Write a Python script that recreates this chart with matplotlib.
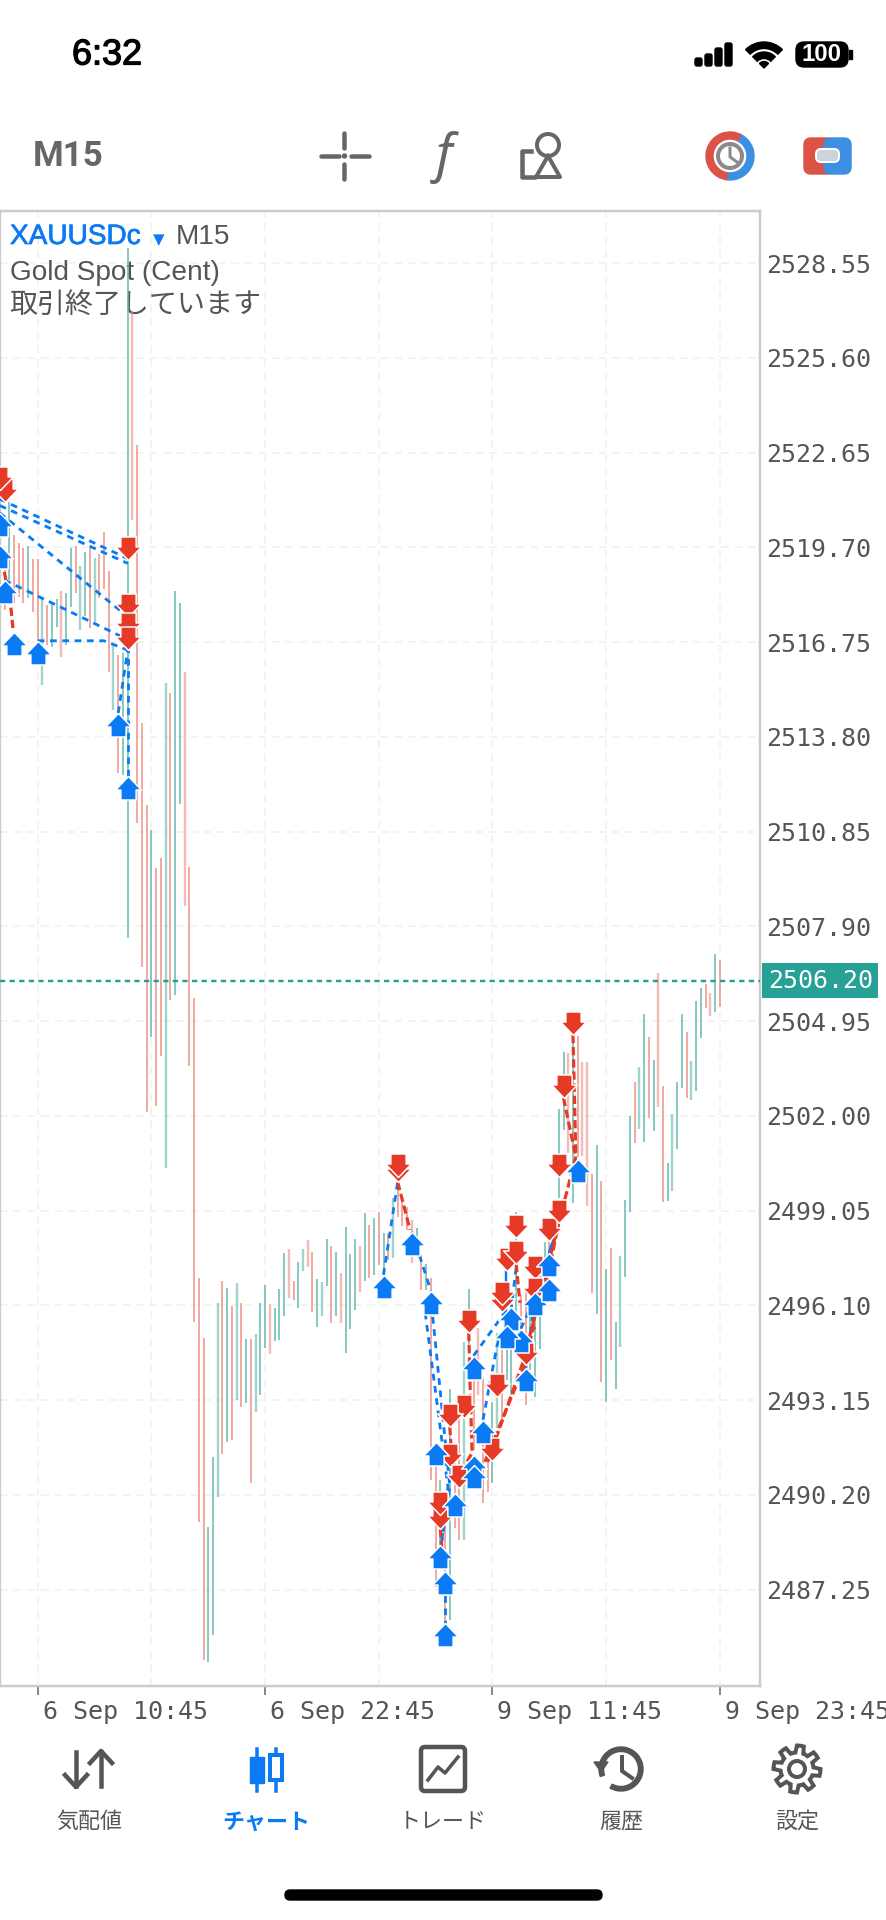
import numpy as np
import matplotlib
matplotlib.use('Agg')
import matplotlib.pyplot as plt
import matplotlib.patheffects as pe
from matplotlib.patches import Circle, FancyBboxPatch, Polygon, Rectangle, Wedge
from matplotlib.path import Path
from matplotlib.transforms import ScaledTranslation

# bars, the first one is bar number -7 (0 = 6 Sep 10:45, 48 bars = 12 hours)
first_bar = -7
highs = [2519.21, 2521.11, 2520.09, 2519.84, 2519.68, 2519.74, 2519.34, 2519.34, 2518.16, 2517.91, 2518.00, 2518.09,
         2518.34, 2518.28, 2519.68, 2519.74, 2519.12, 2519.56, 2519.68, 2519.37, 2519.49, 2520.18, 2518.96, 2516.66,
         2516.35, 2516.41, 2529.02, 2527.03, 2522.89, 2514.23, 2511.68, 2510.90, 2509.72, 2510.03, 2515.48, 2515.17,
         2518.34, 2517.97, 2515.82, 2509.75, 2505.67, 2496.96, 2495.09, 2489.20, 2491.38, 2496.18, 2496.86, 2496.64,
         2496.08, 2496.80, 2496.18, 2495.06, 2495.06, 2495.21, 2496.18, 2496.74, 2496.15, 2496.02, 2496.61, 2497.73,
         2497.86, 2496.86, 2497.45, 2497.86, 2498.14, 2497.77, 2496.92, 2496.83, 2498.17, 2497.95, 2497.77, 2497.11,
         2498.54, 2497.70, 2498.17, 2497.95, 2498.98, 2498.61, 2498.82, 2499.01, 2498.36, 2498.36, 2499.45, 2500.01,
         2499.48, 2499.17, 2498.76, 2498.51, 2497.67, 2497.39, 2496.96, 2491.17, 2490.67, 2490.04, 2493.50, 2491.29,
         2492.85, 2494.96, 2496.61, 2493.84, 2495.40, 2493.84, 2491.91, 2493.10, 2495.24, 2495.03, 2495.80, 2495.65,
         2499.01, 2496.43, 2496.58, 2496.27, 2496.58, 2495.87, 2498.08, 2498.76, 2499.38, 2502.22, 2503.99, 2503.96,
         2504.46, 2504.49, 2503.68, 2503.68, 2500.19, 2501.10, 2499.98, 2497.24, 2497.89, 2495.59, 2497.64, 2499.38,
         2502.00, 2503.06, 2503.52, 2505.17, 2504.46, 2503.74, 2506.45, 2502.93, 2500.54, 2502.06, 2503.06, 2505.17,
         2504.61, 2503.71, 2505.58, 2505.98, 2506.11, 2505.83, 2507.04, 2506.86]
lows = [2517.75, 2518.68, 2517.97, 2518.16, 2517.97, 2518.12, 2517.69, 2516.75, 2515.42, 2516.66, 2516.60, 2517.22,
        2516.29, 2516.66, 2517.84, 2518.28, 2517.13, 2517.56, 2517.19, 2517.38, 2518.12, 2518.40, 2515.82, 2514.64,
        2512.68, 2512.61, 2507.54, 2520.55, 2511.12, 2506.64, 2502.12, 2504.46, 2502.31, 2503.87, 2500.38, 2505.61,
        2505.77, 2511.71, 2508.54, 2503.56, 2495.59, 2489.36, 2485.06, 2485.00, 2485.84, 2490.14, 2491.48, 2491.85,
        2491.91, 2493.16, 2492.94, 2493.06, 2490.57, 2492.78, 2493.31, 2494.78, 2494.59, 2494.99, 2495.03, 2495.77,
        2496.33, 2496.27, 2496.02, 2497.17, 2497.30, 2495.90, 2495.43, 2495.77, 2496.71, 2495.56, 2495.77, 2495.56,
        2494.62, 2495.37, 2495.96, 2496.52, 2496.86, 2496.96, 2497.05, 2497.36, 2497.05, 2497.52, 2497.58, 2498.85,
        2498.58, 2498.45, 2497.42, 2497.67, 2496.58, 2496.58, 2490.67, 2487.33, 2488.18, 2486.22, 2486.31, 2489.17,
        2488.80, 2488.80, 2494.71, 2491.60, 2493.31, 2489.95, 2490.29, 2490.57, 2492.29, 2492.54, 2493.78, 2493.31,
        2495.65, 2494.87, 2493.00, 2494.09, 2493.25, 2494.75, 2496.27, 2496.43, 2497.83, 2499.45, 2501.56, 2500.85,
        2499.29, 2500.72, 2500.75, 2499.20, 2496.49, 2495.83, 2493.72, 2493.10, 2494.40, 2493.50, 2494.81, 2496.99,
        2499.01, 2501.16, 2501.59, 2501.19, 2501.94, 2501.53, 2502.28, 2499.32, 2499.35, 2499.66, 2500.97, 2502.87,
        2502.56, 2502.50, 2502.78, 2504.43, 2505.36, 2505.11, 2505.24, 2505.39]
# t = teal bar, s = salmon bar, ten bars per piece
bar_dir = ('stssstssts' 'ttsttsttst' 'ssststtsss' 'stsststtss' 'ssstttstst' 'ststttsttt' 'ssttssttts'
           'tstttststs' 'tstsssstst' 'sststsstts' 'sssttsttts' 'sttttsttts' 'tsssststst' 'tttsttstss'
           'ttttstttss' 'ts')

# bars that come out paler
pale_bars = [1, 5, 9, 12, 16, 20, 27, 31, 38, 42, 46, 49, 53, 56, 57, 60, 64, 68, 75, 79, 90, 93, 97,
             112, 115, 116, 123, 127, 131, 134, 138, 142]

sell_bar = [-7, -8, 19, 19, 19, 19, 76, 76, 91, 97, 90, 87, 96, 87, 89, 85, 85, 103, 98, 98, 99, 101, 101, 105, 105,
            108, 110, 113, 111, 110]
sell_price = [2521.11, 2521.49, 2519.31, 2517.54, 2516.94, 2516.51, 2499.94, 2500.10, 2495.24, 2493.25, 2492.60,
              2492.32, 2491.26, 2491.07, 2490.42, 2489.14, 2489.58, 2494.25, 2495.90, 2496.12, 2497.17, 2497.39,
              2498.20, 2496.92, 2496.24, 2498.11, 2498.67, 2504.52, 2502.56, 2500.10]
buy_bar = [-8, -8, -7, -5, 0, 17, 19, 73, 79, 83, 92, 94, 84, 92, 92, 88, 85, 86, 86, 103, 102, 100, 99, 105, 108,
           108, 114]
buy_price = [2520.77, 2519.77, 2518.68, 2517.07, 2516.79, 2514.54, 2512.58, 2497.05, 2498.39, 2496.55, 2494.53,
             2492.54, 2491.85, 2491.45, 2491.14, 2490.26, 2488.64, 2487.84, 2486.22, 2494.15, 2495.37, 2496.05,
             2495.49, 2496.52, 2497.73, 2496.96, 2500.66]

# dashed deal lines
blue_lines = [
    [(-8, 2521.20), (19, 2519.35)],
    [(-8, 2521.00), (19, 2519.20)],
    [(-8, 2520.77), (19, 2517.54)],
    [(-7, 2518.68), (18, 2516.90), (19, 2516.51)],
    [(0, 2516.79), (14, 2516.79), (19, 2516.50)],
    [(17, 2514.54), (19, 2516.50)],
    [(19, 2512.58), (19, 2516.50)],
    [(73, 2497.05), (76, 2499.94)],
    [(79, 2498.39), (83, 2496.55)],
    [(81.8, 2495.87), (86.6, 2490.45), (85.2, 2488.64)],
    [(83.4, 2495.74), (87, 2490.45), (85.2, 2488.64)],
    [(86, 2487.84), (86, 2486.22)],
    [(92, 2494.53), (99, 2495.96)],
    [(94, 2492.54), (97, 2494.87), (99, 2495.49)],
    [(101, 2497.27), (100, 2496.05)],
    [(102, 2495.37), (106, 2496.68)],
    [(103, 2494.09), (105, 2496.36), (110, 2498.67)],
    [(108, 2497.73), (110, 2498.67)],
]
solid_blue_lines = [
    [(98.8, 2497.14), (98.8, 2495.90)],
    [(105, 2496.36), (110, 2498.67)],
]
red_lines = [
    [(-7.5, 2519.31), (-5.6, 2517.75), (-5.2, 2517.13)],
    [(76, 2499.94), (78.6, 2498.45)],
    [(91, 2495.24), (91.3, 2493.47), (91.7, 2491.51), (89, 2490.80)],
    [(87, 2492.32), (87.3, 2491.60)],
    [(101, 2497.39), (101.8, 2496.18)],
    [(95, 2491.23), (102.4, 2494.31)],
    [(94.4, 2491.23), (102.8, 2494.25)],
    [(102.4, 2494.31), (107.5, 2497.21), (110, 2498.67)],
    [(106.2, 2495.96), (110, 2498.67)],
    [(110, 2498.67), (113.6, 2500.72)],
    [(111, 2502.56), (113.6, 2500.72)],
    [(113, 2504.52), (113.6, 2500.72)],
    [(105, 2495.43), (102.4, 2494.93)],
    [(105.6, 2496.27), (103.9, 2494.93)],
    [(85, 2489.14), (85.6, 2487.95)],
]

last_price = 2506.20
price_ticks = [2528.55, 2525.60, 2522.65, 2519.70, 2516.75, 2513.80, 2510.85, 2507.90, 2504.95, 2502.00, 2499.05,
               2496.10, 2493.15, 2490.20, 2487.25]
time_ticks = [0, 48, 96, 144]
time_labels = ['6 Sep 10:45', '6 Sep 22:45', '9 Sep 11:45', '9 Sep 23:45']

nav_labels = ['気配値', 'チャート', 'トレード', '履歴', '設定']
nav_x = [89, 266, 443, 621, 797]

W, H = 887, 1920
BLUE = '#0a7af5'
RED = '#e63a26'
TEAL = '#62b8ad'
SALMON = '#ee9085'
JP = ['Noto Sans CJK JP', 'DejaVu Sans']


def px(v):
    return v * 0.72


fig = plt.figure(figsize=(W / 100, H / 100), dpi=100)

# screen layer in pixels, for everything that is not the chart
ui = fig.add_axes([0, 0, 1, 1])
ui.set_xlim(0, W)
ui.set_ylim(H, 0)
ui.axis('off')

# chart
ax = fig.add_axes([0, 1 - 1686 / H, 760 / W, (1686 - 211) / H])
ax.set_xlim(-7.96, 152.48)
ax.set_ylim(2484.25, 2530.17)

for s in ax.spines.values():
    s.set_color('#cccccc')
    s.set_linewidth(px(2.5))

ax.yaxis.tick_right()
ax.set_yticks(price_ticks)
ax.set_yticklabels(['%.2f' % p for p in price_ticks], family='DejaVu Sans Mono', fontsize=px(25), color='#555555')
ax.tick_params(axis='y', length=0, pad=px(6))
ax.set_xticks(time_ticks)
ax.set_xticklabels(time_labels, family='DejaVu Sans Mono', fontsize=px(25), color='#555555', ha='left')
ax.set_xticks([24, 72, 120], minor=True)
ax.tick_params(axis='x', which='major', length=px(9), width=px(2), color='#888888', pad=px(5))
ax.tick_params(axis='x', which='minor', length=0)
shift = ScaledTranslation(5 / 100, 0, fig.dpi_scale_trans)
for lab in ax.get_xticklabels():
    lab.set_transform(lab.get_transform() + shift)

ax.grid(True, which='both', color='#f1f1f1', lw=px(1.7), ls=(0, (4.5, 3.5)))
ax.set_axisbelow(True)

idx = np.arange(first_bar, first_bar + len(highs))
for i, b in enumerate(idx):
    c = TEAL if bar_dir[i] == 't' else SALMON
    if b in pale_bars:
        ax.vlines(b, lows[i], highs[i], color=c, lw=px(2.4), alpha=0.6, zorder=3)
    else:
        ax.vlines(b, lows[i], highs[i], color=c, lw=px(1.5), zorder=3)

ax.axhline(last_price, color='#259f93', lw=px(2.4), ls=(0, (2.2, 1.8)), zorder=4)

for line in blue_lines:
    xs, ys = zip(*line)
    ax.plot(xs, ys, color=BLUE, lw=px(2.8), ls=(0, (2.4, 2)), zorder=5)
for line in solid_blue_lines:
    xs, ys = zip(*line)
    ax.plot(xs, ys, color=BLUE, lw=px(2.4), zorder=5)
for line in red_lines:
    xs, ys = zip(*line)
    ax.plot(xs, ys, color=RED, lw=px(3.2), ls=(0, (2.6, 1.2)), zorder=5)

# arrow markers with the tip on the price
down_verts = [(0, 0), (11, 11.5), (6.5, 11.5), (6.5, 20), (-6.5, 20), (-6.5, 11.5), (-11, 11.5), (0, 0)]
up_verts = [(x, -y) for x, y in down_verts]
ax.plot(sell_bar, sell_price, ls='', marker=Path(down_verts, closed=True), ms=px(47), mfc=RED, mec='white',
        mew=px(1.5), zorder=6)
ax.plot(buy_bar, buy_price, ls='', marker=Path(up_verts, closed=True), ms=px(47), mfc=BLUE, mec='white',
        mew=px(1.5), zorder=7)

# header text of the chart
thick_blue = [pe.withStroke(linewidth=0.5, foreground=BLUE)]
ax.text(10 / 760, 1 - 33 / 1475, 'XAUUSDc', transform=ax.transAxes, color=BLUE, family='Liberation Sans', fontsize=px(28),
        va='baseline', zorder=2, path_effects=thick_blue)
ax.text(153 / 760, 1 - 33 / 1475, '▼', transform=ax.transAxes, color=BLUE, family='DejaVu Sans', fontsize=px(15),
        va='baseline', zorder=2)
ax.text(176 / 760, 1 - 33 / 1475, 'M15', transform=ax.transAxes, color='#555555', family='Liberation Sans',
        fontsize=px(28), va='baseline', zorder=2)
ax.text(10 / 760, 1 - 69 / 1475, 'Gold Spot (Cent)', transform=ax.transAxes, color='#555555', family='Liberation Sans',
        fontsize=px(28), va='baseline', zorder=2)
ax.text(9 / 760, 1 - 102 / 1475, '取引終了しています', transform=ax.transAxes, color='#555555', family=JP,
        fontsize=px(28), va='baseline', zorder=2)

# current price tag
ax.text(1 + 8 / 760, last_price, '%.2f' % last_price, transform=ax.get_yaxis_transform(), color='white',
        family='DejaVu Sans Mono', fontsize=px(25), va='center', ha='left', clip_on=False, zorder=9,
        bbox=dict(boxstyle='square,pad=0.22', fc='#27a195', ec='none'))

# small grey triangle over the last bar
ui.add_patch(Polygon([(709, 1686), (730, 1686), (719.5, 1668)], color='#c4c4c4', zorder=5))

# status bar
ui.text(72, 55, '6:32', fontsize=px(36), family='Liberation Sans', color='black', va='center',
        path_effects=[pe.withStroke(linewidth=0.9, foreground='black')])
for x, h in zip([695, 705, 715, 725], [8, 12, 18, 23]):
    ui.add_patch(FancyBboxPatch((x, 66 - h), 7, h, boxstyle='round,pad=0,rounding_size=2', color='black'))
ui.add_patch(Wedge((764, 68), 26, 225, 315, width=6.5, color='black'))
ui.add_patch(Wedge((764, 68), 16, 225, 315, width=6.5, color='black'))
ui.add_patch(Wedge((764, 68), 6.5, 225, 315, color='black'))
ui.add_patch(FancyBboxPatch((796, 42), 52, 25, boxstyle='round,pad=0,rounding_size=8', color='black'))
ui.add_patch(Rectangle((849, 50), 3, 9, color='black'))
ui.text(822, 54.5, '100', color='white', fontsize=px(24), family='Liberation Sans', weight='bold', ha='center',
        va='center')

# toolbar
ui.text(33, 156, 'M15', fontsize=px(35), family='Roboto', weight='bold', color='#666666', va='center')
for a, b in [((321, 156), (339, 156)), ((351, 156), (369, 156)), ((344.5, 133), (344.5, 148)), ((344.5, 164), (344.5, 179))]:
    ui.plot([a[0], b[0]], [a[1], b[1]], color='#666666', lw=px(4.5), solid_capstyle='round')
ui.add_patch(Circle((344.5, 156), 2, color='#666666'))
ui.text(444, 157, 'f', fontsize=px(52), family='Noto Sans', style='italic', color='#666666', ha='center', va='center')
ui.add_patch(Circle((548, 145), 11, fill=False, ec='#666666', lw=px(4)))
ui.plot([548, 536, 560, 548], [156, 177, 177, 156], color='#666666', lw=px(4))
ui.plot([531, 522, 522, 534], [151, 151, 177, 177], color='#666666', lw=px(4.5))
ui.add_patch(Wedge((730, 156), 24, 95, 300, width=7, color='#dc5245'))
ui.add_patch(Wedge((730, 156), 24, 300, 95, width=7, color='#3d8fe2'))
ui.add_patch(Circle((730, 156), 12, fill=False, ec='#8a8a8a', lw=px(4)))
ui.plot([730, 730, 737], [148, 157, 162], color='#8a8a8a', lw=px(3))
ui.add_patch(FancyBboxPatch((804, 138), 30, 36, boxstyle='round,pad=0,rounding_size=7', color='#dc5245'))
ui.add_patch(FancyBboxPatch((824, 138), 27, 36, boxstyle='round,pad=0,rounding_size=7', color='#3d8fe2'))
ui.add_patch(FancyBboxPatch((816, 149), 23, 13, boxstyle='round,pad=0,rounding_size=5', fc='#ccd3da', ec='white',
                            lw=px(2)))

# bottom navigation
for i, t in enumerate(nav_labels):
    c = BLUE if i == 1 else '#555555'
    ui.text(nav_x[i], 1822, t, color=c, family=JP, fontsize=px(22), ha='center', va='center',
            weight='bold' if i == 1 else 'normal')

# nav: quotes
ui.plot([76, 76], [1752, 1786], color='#555555', lw=px(4.5))
ui.plot([65, 76, 87], [1775, 1787, 1775], color='#555555', lw=px(4.5))
ui.plot([101, 101], [1752, 1786], color='#555555', lw=px(4.5))
ui.plot([90, 101, 112], [1763, 1751, 1763], color='#555555', lw=px(4.5))
# nav: chart
ui.plot([257, 257], [1749, 1791], color=BLUE, lw=px(3.5))
ui.add_patch(Rectangle((250, 1757), 14, 26, color=BLUE))
ui.plot([276, 276], [1749, 1791], color=BLUE, lw=px(3.5))
ui.add_patch(Rectangle((270, 1755), 12, 25, fc='white', ec=BLUE, lw=px(4), zorder=3))
# nav: trade
ui.add_patch(FancyBboxPatch((421, 1747), 44, 44, boxstyle='round,pad=0,rounding_size=4', fc='none', ec='#555555',
                            lw=px(4.5)))
ui.plot([428, 438, 445, 458], [1780, 1767, 1773, 1757], color='#555555', lw=px(3.5))
# nav: history
ui.add_patch(Wedge((621, 1769), 22, 160, 120, width=4.5, color='#555555'))
ui.add_patch(Polygon([(594, 1762), (608, 1762), (601, 1772)], color='#555555'))
ui.plot([622, 622, 632], [1757, 1771, 1778], color='#555555', lw=px(4))
# nav: settings
teeth = np.linspace(0, 2 * np.pi, 65)
gear_r = 20 + 3.5 * np.sign(np.sin(8 * teeth + 0.4))
ui.fill(797 + gear_r * np.cos(teeth), 1769 + gear_r * np.sin(teeth), fc='white', ec='#555555', lw=px(4))
ui.add_patch(Circle((797, 1769), 8, fill=False, ec='#555555', lw=px(4)))

# home bar
ui.add_patch(FancyBboxPatch((285, 1890), 317, 10, boxstyle='round,pad=0,rounding_size=5', color='black'))

fig.savefig('out.png', dpi=100)
